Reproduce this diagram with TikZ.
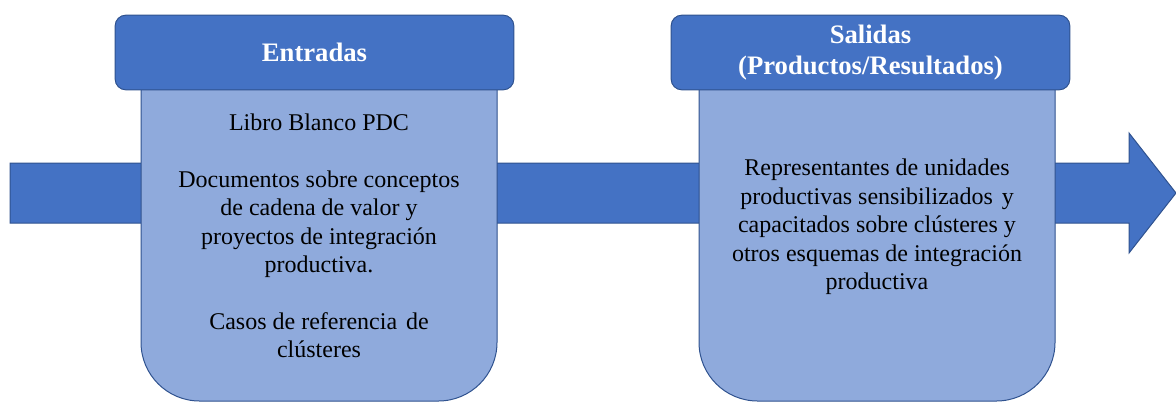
\documentclass[tikz,border=0pt]{standalone}
\usepackage{fontspec}
\setmainfont{Liberation Serif}
\definecolor{hdrblue}{HTML}{4472C4}
\definecolor{edgeblue}{HTML}{2F528F}
\definecolor{bodyblue}{HTML}{8FAADC}
\tikzset{
  hdrbox/.style={draw=edgeblue, fill=hdrblue, line width=0.75pt, rounded corners=8pt,
    minimum width=299pt, minimum height=56pt, text=white, align=center,
    font=\fontsize{20}{23}\selectfont\bfseries},
  bodybox/.style={draw=edgeblue, fill=bodyblue, line width=0.75pt, rounded corners=44pt,
    minimum width=267pt, minimum height=285pt},
  bodytext/.style={align=center, text=black, font=\fontsize{18}{21.3}\selectfont}
}
\begin{document}
\begin{tikzpicture}[x=0.75pt,y=-0.75pt]
\useasboundingbox (0,0) rectangle (1176,401);
% flecha de fondo
\draw[draw=edgeblue, fill=hdrblue, line width=0.75pt]
  (10,163) -- (1129,163) -- (1129,133) -- (1176,193) -- (1129,253) -- (1129,223) -- (10,223) -- cycle;
% entradas
\node[bodybox] (inbody) at (319,211) {};
\node[hdrbox] (inhdr) at (314.5,52.5) {Entradas};
\node[bodytext] (intext) at (319,236) {Libro Blanco PDC\\[21.3pt]
  Documentos sobre conceptos\\ de cadena de valor y\\ proyectos de integración\\ productiva.\\[21.3pt]
  Casos de referencia\hspace{0.12em} de\\ clústeres};
% salidas
\node[bodybox] (outbody) at (877,211) {};
\node[hdrbox] (outhdr) at (870.5,52.5) {Salidas\\ (Productos/Resultados)};
\node[bodytext] (outtext) at (877,227) {Representantes de unidades\\ productivas sensibilizados\hspace{0.12em} y\\
  capacitados sobre clústeres y\\ otros esquemas de integración\\ productiva};
\end{tikzpicture}
\end{document}
